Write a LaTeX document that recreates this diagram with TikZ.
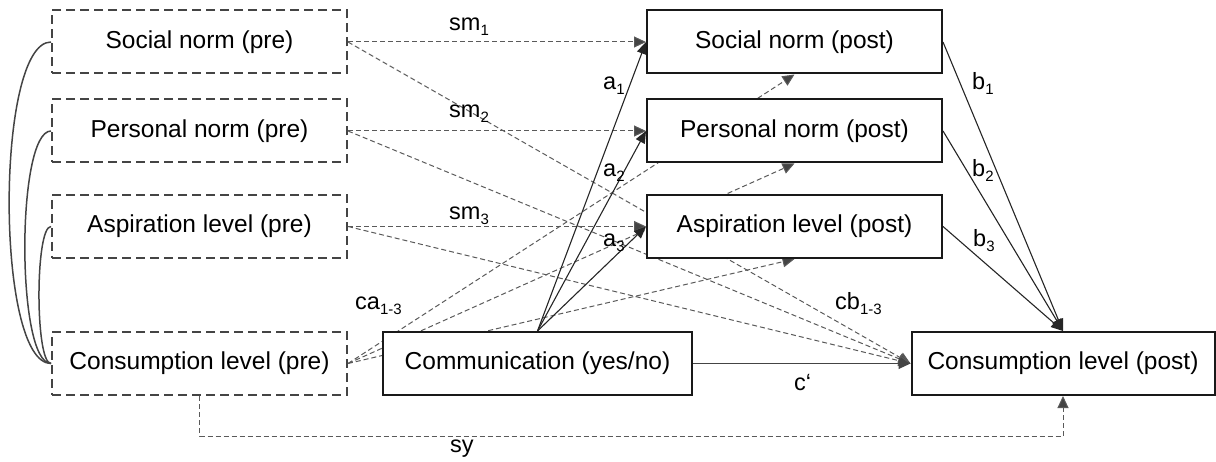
\documentclass[tikz,border=0pt]{standalone}
\usepackage{fontspec}
\setmainfont{Liberation Sans}
\usetikzlibrary{arrows.meta,backgrounds}
\definecolor{dgray}{HTML}{444444}
\definecolor{lgray}{HTML}{5A5A5A}
\newcommand\lab[2]{#1\raisebox{-5pt}{\fontsize{15}{15}\selectfont #2}}
\begin{document}
\begin{tikzpicture}[x=1pt,y=-1pt,
  box/.style={draw=black!90, line width=2pt, fill=white, minimum width=295pt, minimum height=63pt, inner sep=0pt, font=\fontsize{24.5}{29}\selectfont},
  prebox/.style={box, draw=dgray, dash pattern=on 9pt off 5pt},
  dl/.style={draw=lgray, line width=1pt, dash pattern=on 5pt off 3pt, -{Triangle[length=12pt,width=11pt,fill=dgray]}},
  sl/.style={draw=black!85, line width=1.1pt, -{Triangle[length=12pt,width=10pt]}},
  cl/.style={draw=dgray, line width=1.5pt},
  lbl/.style={anchor=base west, inner sep=0pt, font=\fontsize{23.5}{27}\selectfont}
]
\useasboundingbox (0,0) rectangle (1216,462);
% pre boxes
\node[prebox] (spre) at (199.5,42) {Social norm (pre)};
\node[prebox] (ppre) at (199.5,131) {Personal norm (pre)};
\node[prebox] (apre) at (199.5,226.5) {Aspiration level (pre)};
\node[prebox] (cpre) at (199.5,363.5) {Consumption level (pre)};
% communication
\node[box, minimum width=309pt] (comm) at (537.5,363.5) {Communication (yes/no)};
% post boxes
\node[box] (spost) at (794.5,42) {Social norm (post)};
\node[box] (ppost) at (794.5,131) {Personal norm (post)};
\node[box] (apost) at (794.5,226.5) {Aspiration level (post)};
\node[box, minimum width=303pt] (cpost) at (1063,363.5) {Consumption level (post)};
\begin{scope}[on background layer]
% left correlation curves
\draw[cl] (spre.west) to[out=180,in=180,looseness=0.445] (cpre.west);
\draw[cl] (ppre.west) to[out=180,in=180,looseness=0.385] (cpre.west);
\draw[cl] (apre.west) to[out=180,in=180,looseness=0.30] (cpre.west);
% stability paths
\draw[dl] (spre.east) -- (spost.west);
\draw[dl] (ppre.east) -- (ppost.west);
\draw[dl] (apre.east) -- (apost.west);
% cb paths
\draw[dl] (spre.east) -- (cpost.west);
\draw[dl] (ppre.east) -- (cpost.west);
\draw[dl] (apre.east) -- (cpost.west);
% ca paths
\draw[dl] (cpre.east) -- (spost.south);
\draw[dl] (cpre.east) -- (ppost.south);
\draw[dl] (cpre.east) -- (apost.south);
% a paths
\draw[sl] (comm.north) -- (spost.west);
\draw[sl] (comm.north) -- (ppost.west);
\draw[sl] (comm.north) -- (apost.west);
% b paths
\draw[sl] (spost.east) -- (cpost.north);
\draw[sl] (ppost.east) -- (cpost.north);
\draw[sl] (apost.east) -- (cpost.north);
% c'
\draw[sl, draw=dgray, -{Triangle[length=12pt,width=11pt,fill=dgray]}] (comm.east) -- (cpost.west);
% sy
\draw[dl] (cpre.south) -- ++(0,40) -| (cpost.south);
\end{scope}
% labels
\node[lbl] (lsm1) at (449,31) {\lab{sm}{1}};
\node[lbl] (lsm2) at (449,118) {\lab{sm}{2}};
\node[lbl] (lsm3) at (449,220) {\lab{sm}{3}};
\node[lbl] (la1) at (603,90) {\lab{a}{1}};
\node[lbl] (la2) at (603,177) {\lab{a}{2}};
\node[lbl] (la3) at (603,247) {\lab{a}{3}};
\node[lbl] (lb1) at (972,90) {\lab{b}{1}};
\node[lbl] (lb2) at (972,177) {\lab{b}{2}};
\node[lbl] (lb3) at (973,247) {\lab{b}{3}};
\node[lbl] (lcb) at (835,310) {\lab{cb}{1-3}};
\node[lbl] (lca) at (355,310) {\lab{ca}{1-3}};
\node[lbl] (lc) at (794,390) {c‘};
\node[lbl] (lsy) at (450,452.5) {sy};
\end{tikzpicture}
\end{document}
